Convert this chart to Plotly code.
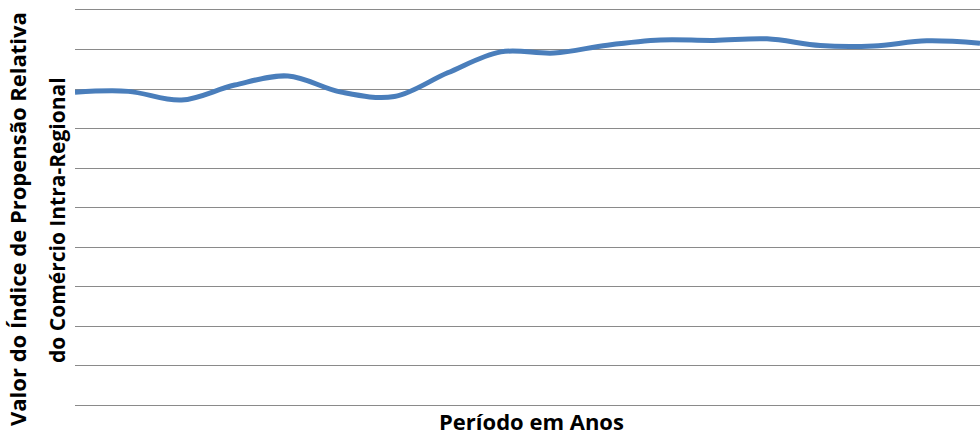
import plotly.graph_objects as go

# Anos da série e valores do índice de propensão relativa
anos = [1990, 1991, 1992, 1993, 1994, 1995, 1996, 1997, 1998,
        1999, 2000, 2001, 2002, 2003, 2004, 2005, 2006, 2007]
indice = [0.792, 0.794, 0.772, 0.810, 0.833, 0.792, 0.781, 0.841, 0.894,
          0.891, 0.911, 0.924, 0.923, 0.927, 0.910, 0.909, 0.922, 0.916]

titulo_y_1 = "Valor do Índice de Propensão Relativa"
titulo_y_2 = "do Comércio Intra-Regional"
titulo_x = "Período em Anos"

fonte = "Open Sans"
cinza = "#8A8A8A"

fig = go.Figure()
fig.add_trace(go.Scatter(
    x=anos, y=indice, mode="lines",
    line=dict(color="#4A7EBB", width=5, shape="spline", smoothing=1.0),
    hoverinfo="skip", showlegend=False,
))

fig.update_layout(
    width=980, height=436,
    margin=dict(l=75, r=0, t=10, b=31),
    paper_bgcolor="white", plot_bgcolor="white",
    xaxis=dict(range=[anos[0], anos[-1]], showgrid=False, zeroline=False,
               showticklabels=False, ticks="",
               showline=True, mirror=True, linecolor=cinza, linewidth=1.4),
    yaxis=dict(range=[0, 1.0], dtick=0.1, showgrid=True, gridcolor=cinza,
               gridwidth=1.4, zeroline=False,
               showticklabels=False, ticks="", showline=False),
    annotations=[
        dict(text=f"<b>{titulo_y_1}</b>", textangle=-90, xref="paper", yref="paper",
             x=(17 - 75) / 905, y=(405 - 219) / 395, xanchor="center", yanchor="middle",
             showarrow=False, font=dict(family=fonte, size=22, color="black")),
        dict(text=f"<b>{titulo_y_2}</b>", textangle=-90, xref="paper", yref="paper",
             x=(57 - 75) / 905, y=(405 - 220) / 395, xanchor="center", yanchor="middle",
             showarrow=False, font=dict(family=fonte, size=21, color="black")),
        dict(text=f"<b>{titulo_x}</b>", xref="paper", yref="paper",
             x=(531 - 75) / 905, y=(405 - 421) / 395, xanchor="center", yanchor="middle",
             showarrow=False, font=dict(family=fonte, size=22, color="black")),
    ],
)

fig.write_html("out.html")
